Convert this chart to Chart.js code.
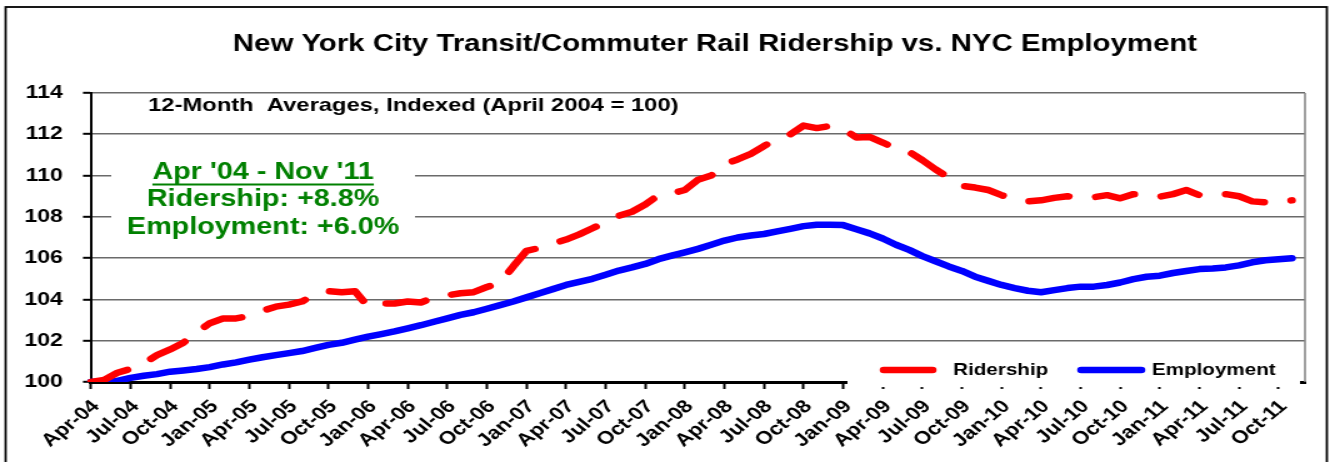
<!DOCTYPE html>
<html>
<head>
<meta charset="utf-8">
<script src="https://cdn.jsdelivr.net/npm/chart.js@4"></script>
<style>
  html, body { margin: 0; padding: 0; background: #fff; overflow: hidden; }
  #wrap { width: 1065px; height: 462px; transform: scaleX(1.25); transform-origin: 0 0; }
</style>
</head>
<body>
<div id="wrap"><canvas id="c" width="1065" height="462"></canvas></div>
<script>
const categories = [
  'Apr-04','May-04','Jun-04','Jul-04','Aug-04','Sep-04','Oct-04','Nov-04','Dec-04',
  'Jan-05','Feb-05','Mar-05','Apr-05','May-05','Jun-05','Jul-05','Aug-05','Sep-05','Oct-05','Nov-05','Dec-05',
  'Jan-06','Feb-06','Mar-06','Apr-06','May-06','Jun-06','Jul-06','Aug-06','Sep-06','Oct-06','Nov-06','Dec-06',
  'Jan-07','Feb-07','Mar-07','Apr-07','May-07','Jun-07','Jul-07','Aug-07','Sep-07','Oct-07','Nov-07','Dec-07',
  'Jan-08','Feb-08','Mar-08','Apr-08','May-08','Jun-08','Jul-08','Aug-08','Sep-08','Oct-08','Nov-08','Dec-08',
  'Jan-09','Feb-09','Mar-09','Apr-09','May-09','Jun-09','Jul-09','Aug-09','Sep-09','Oct-09','Nov-09','Dec-09',
  'Jan-10','Feb-10','Mar-10','Apr-10','May-10','Jun-10','Jul-10','Aug-10','Sep-10','Oct-10','Nov-10','Dec-10',
  'Jan-11','Feb-11','Mar-11','Apr-11','May-11','Jun-11','Jul-11','Aug-11','Sep-11','Oct-11','Nov-11','Dec-11'
];

const ridership = [
  100.0, 100.1, 100.45, 100.63, 100.9, 101.3, 101.58, 101.9, 102.4, 102.85,
  103.08, 103.08, 103.2, 103.45, 103.65, 103.75, 103.9, 104.25, 104.4, 104.35,
  104.4, 103.65, 103.8, 103.8, 103.9, 103.85, 104.1, 104.2, 104.3, 104.35,
  104.6, 104.8, 105.6, 106.35, 106.5, 106.7, 106.9, 107.15, 107.45, 107.75,
  108.05, 108.25, 108.6, 109.05, 109.14, 109.3, 109.8, 110.0, 110.55, 110.78,
  111.05, 111.43, 111.78, 112.0, 112.42, 112.3, 112.4, 112.25, 111.85, 111.87,
  111.6, 111.3, 111.15, 110.75, 110.3, 109.9, 109.5, 109.42, 109.3, 109.05,
  108.85, 108.75, 108.8, 108.92, 109.0, 108.9, 108.95, 109.05, 108.9, 109.1,
  109.1, 108.98, 109.1, 109.3, 109.05, 109.12, 109.1, 109.0, 108.75, 108.7,
  108.72, 108.8
];

const employment = [
  100.0, 100.02, 100.05, 100.2, 100.3, 100.38, 100.5, 100.56, 100.63, 100.72,
  100.85, 100.95, 101.08, 101.2, 101.3, 101.4, 101.5, 101.65, 101.8, 101.9,
  102.05, 102.2, 102.32, 102.45, 102.6, 102.75, 102.92, 103.08, 103.25, 103.38,
  103.55, 103.72, 103.9, 104.1, 104.3, 104.5, 104.7, 104.85, 105.0, 105.2,
  105.4, 105.55, 105.72, 105.95, 106.12, 106.28, 106.45, 106.65, 106.85, 107.0,
  107.1, 107.17, 107.3, 107.42, 107.55, 107.62, 107.62, 107.6, 107.4, 107.2,
  106.95, 106.65, 106.4, 106.1, 105.85, 105.6, 105.38, 105.1, 104.9, 104.7,
  104.55, 104.42, 104.35, 104.45, 104.55, 104.62, 104.62, 104.7, 104.82, 104.98,
  105.1, 105.15, 105.28, 105.38, 105.47, 105.5, 105.55, 105.65, 105.8, 105.9,
  105.95, 106.0
];

const seriesNames = ['Ridership', 'Employment'];
const yTicks = { min: 100, max: 114, step: 2 };

const titleText = 'New York City Transit/Commuter Rail Ridership vs. NYC Employment';
const subtitleText = '12-Month  Averages, Indexed (April 2004 = 100)';
const noteLines = ["Apr '04 - Nov '11", 'Ridership: +8.8%', 'Employment: +6.0%'];

const FONT = "'Liberation Sans', Arial, sans-serif";

const decor = {
  id: 'decor',
  beforeDraw(chart) {
    const ctx = chart.ctx;
    ctx.save();
    ctx.fillStyle = '#fff';
    ctx.fillRect(0, 0, chart.width, chart.height);
    ctx.strokeStyle = '#000';
    ctx.lineWidth = 1.8;
    ctx.strokeRect(4.5, 7, 1057, 480);
    ctx.restore();
  },
  beforeDatasetsDraw(chart) {
    const ctx = chart.ctx;
    const a = chart.chartArea;
    ctx.save();
    ctx.strokeStyle = '#8a8a8a';
    ctx.lineWidth = 1.6;
    ctx.beginPath();
    ctx.moveTo(a.right, a.top);
    ctx.lineTo(a.right, a.bottom);
    ctx.stroke();
    ctx.fillStyle = '#000';
    ctx.font = `bold 19px ${FONT}`;
    ctx.textAlign = 'left';
    ctx.textBaseline = 'middle';
    ctx.fillText(subtitleText, 118.5, 106);
    ctx.fillStyle = '#fff';
    ctx.fillRect(89, 148, 243, 94);
    ctx.fillStyle = '#008000';
    ctx.font = `bold 23px ${FONT}`;
    ctx.textAlign = 'center';
    const cx = 210.5;
    ctx.fillText(noteLines[0], cx, 173);
    const w = ctx.measureText(noteLines[0]).width;
    ctx.fillRect(cx - w / 2, 183.5, w, 2);
    ctx.fillText(noteLines[1], cx, 200);
    ctx.fillText(noteLines[2], cx, 228);
    ctx.restore();
  },
  afterDraw(chart) {
    const ctx = chart.ctx;
    ctx.save();
    ctx.fillStyle = '#000';
    ctx.font = `bold 23.5px ${FONT}`;
    ctx.textAlign = 'center';
    ctx.textBaseline = 'middle';
    ctx.fillText(titleText, 572, 45);
    ctx.fillStyle = '#fff';
    ctx.fillRect(678, 352, 362, 35);
    const ds = chart.data.datasets;
    const items = [
      { x0: 707, x1: 746, tx: 762.5 },
      { x0: 865, x1: 913, tx: 921.5 }
    ];
    ctx.font = `bold 16.5px ${FONT}`;
    ctx.textAlign = 'left';
    items.forEach((it, i) => {
      ctx.strokeStyle = ds[i].borderColor;
      ctx.lineWidth = 6.5;
      ctx.lineCap = 'round';
      ctx.beginPath();
      ctx.moveTo(it.x0, 370);
      ctx.lineTo(it.x1, 370);
      ctx.stroke();
      ctx.fillStyle = '#000';
      ctx.fillText(ds[i].label, it.tx, 370);
    });
    ctx.restore();
  }
};

new Chart(document.getElementById('c'), {
  type: 'line',
  data: {
    labels: categories,
    datasets: [
      {
        label: seriesNames[0],
        data: ridership,
        borderColor: '#ff0000',
        backgroundColor: '#ff0000',
        borderWidth: 6.5,
        borderDash: [32, 22],
        borderCapStyle: 'round',
        borderJoinStyle: 'round',
        pointRadius: 0,
        tension: 0,
        fill: false
      },
      {
        label: seriesNames[1],
        data: employment,
        borderColor: '#0000ff',
        backgroundColor: '#0000ff',
        borderWidth: 6.5,
        borderCapStyle: 'round',
        borderJoinStyle: 'round',
        pointRadius: 0,
        tension: 0,
        fill: false
      }
    ]
  },
  options: {
    responsive: false,
    animation: false,
    devicePixelRatio: 1,
    layout: { padding: { top: 93, left: 10, right: 21, bottom: 0 } },
    plugins: {
      legend: { display: false },
      title: { display: false },
      tooltip: { enabled: false }
    },
    scales: {
      x: {
        type: 'category',
        offset: false,
        afterFit(s) {
          s.height = 80;
          s.paddingLeft = 0;
          s.paddingRight = 0;
          s.paddingTop = 0;
          s.paddingBottom = 0;
        },
        grid: {
          drawOnChartArea: false,
          drawTicks: true,
          tickLength: 7,
          tickWidth: 2,
          tickColor: (c) => (c.index % 3 === 0 ? '#000' : 'rgba(0,0,0,0)'),
          color: 'rgba(0,0,0,0)'
        },
        border: { display: true, color: '#000', width: 3 },
        ticks: {
          autoSkip: false,
          maxRotation: 45,
          minRotation: 45,
          padding: 7,
          labelOffset: 4,
          color: '#000',
          font: { family: FONT, size: 18, weight: 'bold' },
          callback(value, index) { return index % 3 === 0 ? categories[index] : ''; }
        }
      },
      y: {
        min: yTicks.min,
        max: yTicks.max,
        afterFit(s) {
          s.width = 62.8;
          s.paddingTop = 0;
          s.paddingBottom = 0;
        },
        grid: {
          color: '#6a6a6a',
          lineWidth: 1.6,
          tickLength: 6.4,
          tickColor: '#000',
          tickWidth: 2
        },
        border: { display: true, color: '#000', width: 2 },
        ticks: {
          stepSize: yTicks.step,
          padding: 16,
          color: '#000',
          font: { family: FONT, size: 18.5, weight: 'bold' }
        }
      }
    }
  },
  plugins: [decor]
});
</script>
</body>
</html>
